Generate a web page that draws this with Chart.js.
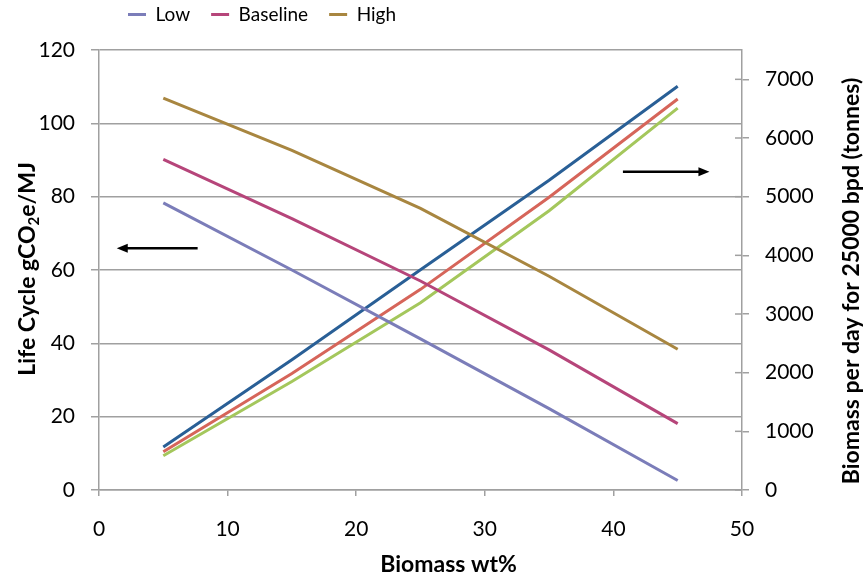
<!DOCTYPE html>
<html>
<head>
<meta charset="utf-8">
<script src="https://cdn.jsdelivr.net/npm/chart.js@4/dist/chart.umd.min.js"></script>
<style>
  html, body { margin: 0; padding: 0; background: #fff; }
</style>
</head>
<body>
<canvas id="chart" width="867" height="579"></canvas>
<script>
const biomassPct = [5, 15, 25, 35, 45];

// life cycle emissions, gCO2e/MJ (left axis)
const lowLC = [78.3, 60.0, 41.2, 22.2, 2.6];
const baseLC = [90.2, 74.0, 57.0, 38.2, 18.1];
const highLC = [106.9, 92.6, 76.8, 58.3, 38.4];

// biomass per day for 25000 bpd, tonnes (right axis)
const blueT = [733, 2220, 3753, 5280, 6882];
const redT = [652, 1985, 3420, 4990, 6664];
const greenT = [583, 1850, 3192, 4760, 6509];

const xTicks = [0, 10, 20, 30, 40, 50];
const leftTicks = [0, 20, 40, 60, 80, 100, 120];
const rightTicks = [0, 1000, 2000, 3000, 4000, 5000, 6000, 7000];

// arrows: [from x, to x, height on left axis]
const arrows = [[7.67, 1.38, 65.9], [40.74, 47.47, 86.8]];

const gridColor = '#a0a0a0';
const tickFont = { family: 'Lato', size: 21 };

const pts = vals => vals.map((v, i) => ({ x: biomassPct[i], y: v }));
const line = (label, vals, color, axis) => ({
  label, data: pts(vals), borderColor: color, backgroundColor: color,
  borderWidth: 3, pointRadius: 0, tension: 0, yAxisID: axis
});

const extras = {
  id: 'extras',
  afterLayout(chart) {
    // Excel puts the legend left of centre, just above the plot
    chart.legend.left = 107;
    chart.legend.top = -16;
  },
  afterDraw(chart) {
    const { ctx, chartArea: ca, scales: { x, y, y2 } } = chart;
    ctx.save();

    // inner half of the crossing ticks on the right axis
    ctx.strokeStyle = gridColor;
    ctx.lineWidth = 1.5;
    rightTicks.forEach(v => {
      const py = y2.getPixelForValue(v);
      ctx.beginPath();
      ctx.moveTo(ca.right - 7, py);
      ctx.lineTo(ca.right, py);
      ctx.stroke();
    });

    // arrows
    ctx.strokeStyle = '#000';
    ctx.fillStyle = '#000';
    ctx.lineWidth = 2.5;
    arrows.forEach(([x0, x1, v]) => {
      const a = x.getPixelForValue(x0), b = x.getPixelForValue(x1), py = y.getPixelForValue(v);
      const dir = Math.sign(b - a);
      ctx.beginPath();
      ctx.moveTo(a, py);
      ctx.lineTo(b - dir * 8, py);
      ctx.stroke();
      ctx.beginPath();
      ctx.moveTo(b, py);
      ctx.lineTo(b - dir * 11, py - 4.5);
      ctx.lineTo(b - dir * 11, py + 4.5);
      ctx.closePath();
      ctx.fill();
    });

    // axis titles
    ctx.font = 'bold 23px Lato';
    ctx.textBaseline = 'middle';
    ctx.textAlign = 'center';
    ctx.fillText('Biomass wt%', (ca.left + ca.right) / 2 + 28, 565);

    ctx.save();
    ctx.translate(852, (ca.top + ca.bottom) / 2 + 11);
    ctx.rotate(-Math.PI / 2);
    ctx.fillText('Biomass per day for 25000 bpd (tonnes)', 0, 0);
    ctx.restore();

    // left title with a real subscript
    const parts = [['Life Cycle gCO', 23, 0], ['2', 15, 6], ['e/MJ', 23, 0]];
    let total = 0;
    parts.forEach(p => { ctx.font = 'bold ' + p[1] + 'px Lato'; total += ctx.measureText(p[0]).width; });
    ctx.translate(28, (ca.top + ca.bottom) / 2 - 1);
    ctx.rotate(-Math.PI / 2);
    ctx.textAlign = 'left';
    let cx = -total / 2;
    parts.forEach(p => {
      ctx.font = 'bold ' + p[1] + 'px Lato';
      ctx.fillText(p[0], cx, p[2]);
      cx += ctx.measureText(p[0]).width;
    });
    ctx.restore();
  }
};

new Chart(document.getElementById('chart'), {
  type: 'line',
  data: {
    datasets: [
      line('Low', lowLC, '#7b7db9', 'y'),
      line('Baseline', baseLC, '#b6457a', 'y'),
      line('High', highLC, '#a88640', 'y'),
      line('Blue', blueT, '#295f96', 'y2'),
      line('Red', redT, '#d6655a', 'y2'),
      line('Green', greenT, '#a4c75c', 'y2')
    ]
  },
  options: {
    responsive: false,
    animation: false,
    devicePixelRatio: 1,
    layout: { padding: 0 },
    plugins: {
      tooltip: { enabled: false },
      legend: {
        position: 'top',
        align: 'start',
        maxHeight: 53,
        labels: {
          font: { family: 'Lato', size: 19 },
          color: '#000',
          boxWidth: 18,
          boxHeight: 3,
          padding: 21,
          filter: item => item.datasetIndex < 3,
          generateLabels: chart => Chart.defaults.plugins.legend.labels.generateLabels(chart)
            .map(l => Object.assign(l, { lineWidth: 0 }))
        }
      }
    },
    scales: {
      x: {
        type: 'linear',
        min: 0, max: 50,
        afterBuildTicks: s => { s.ticks = xTicks.map(v => ({ value: v })); },
        afterFit: s => { s.height = 89; },
        grid: { drawOnChartArea: false, tickLength: 6, color: gridColor, lineWidth: 1.5 },
        border: { color: gridColor, width: 1.5 },
        ticks: { font: tickFont, color: '#000', padding: 21, maxRotation: 0 }
      },
      y: {
        position: 'left',
        min: 0, max: 120,
        afterBuildTicks: s => { s.ticks = leftTicks.map(v => ({ value: v })); },
        afterFit: s => { s.width = 99; },
        grid: { color: gridColor, lineWidth: 1.5, tickLength: 8 },
        border: { color: gridColor, width: 1.5 },
        ticks: { font: tickFont, color: '#000', padding: 16 }
      },
      y2: {
        position: 'right',
        min: 0, max: 7500,
        afterBuildTicks: s => { s.ticks = rightTicks.map(v => ({ value: v })); },
        afterFit: s => { s.width = 125; },
        grid: { drawOnChartArea: false, color: gridColor, lineWidth: 1.5, tickLength: 7 },
        border: { color: gridColor, width: 1.5 },
        ticks: { font: tickFont, color: '#000', padding: 16, callback: v => String(v) }
      }
    }
  },
  plugins: [extras]
});
</script>
</body>
</html>
